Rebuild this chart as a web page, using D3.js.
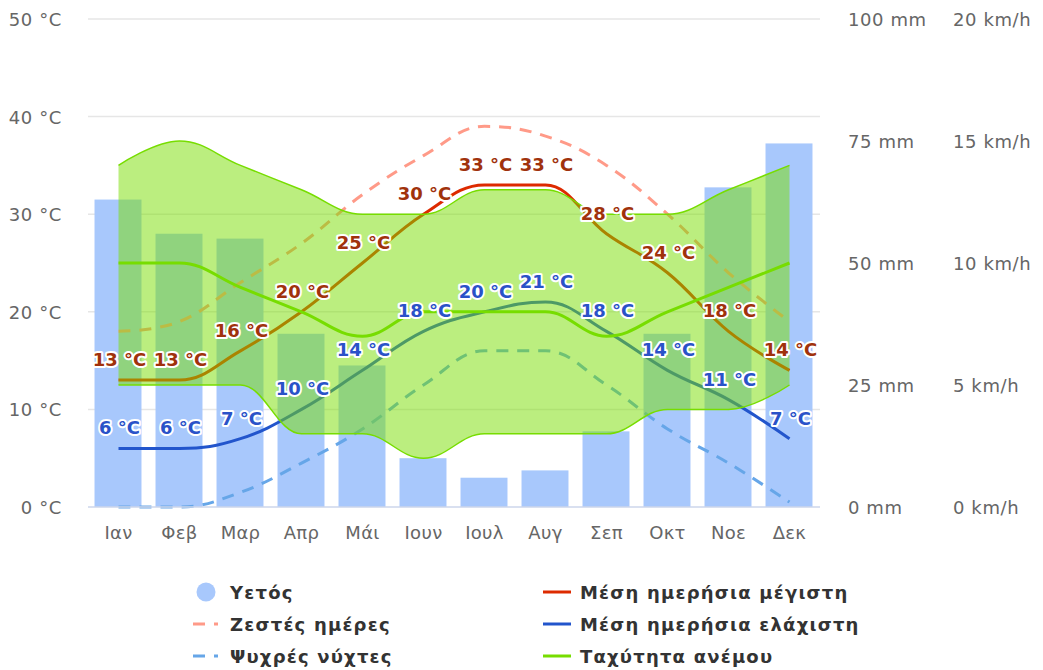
<!DOCTYPE html>
<html>
<head>
<meta charset="utf-8">
<script src="https://cdn.jsdelivr.net/npm/d3@7"></script>
<style>
  html, body { margin: 0; padding: 0; background: #fff; }
  svg { display: block; font-family: "DejaVu Sans", Verdana, sans-serif; }
</style>
</head>
<body>
<svg id="chart" width="1043" height="670"></svg>
<script>
// Monthly climate values
const months = ["Ιαν", "Φεβ", "Μαρ", "Απρ", "Μάι", "Ιουν", "Ιουλ", "Αυγ", "Σεπ", "Οκτ", "Νοε", "Δεκ"];
const precipitation = [63, 56, 55, 35.5, 29, 10, 6, 7.5, 15.5, 35.5, 65.5, 74.5];   // mm
const tempMax = [13, 13, 16, 20, 25, 30, 33, 33, 28, 24, 18, 14];                     // °C
const tempMin = [6, 6, 7, 10, 14, 18, 20, 21, 18, 14, 11, 7];                         // °C
const hotDays = [18, 19, 23, 27, 32, 36, 39, 38, 35, 30, 24, 19];                     // °C
const coldNights = [0, 0, 1.5, 4.5, 8, 12.5, 16, 16, 12.5, 8, 4.5, 0.5];              // °C
const windMean = [10, 10, 9, 8, 7, 8, 8, 8, 7, 8, 9, 10];                             // km/h
const windLow = [5, 5, 5, 3, 3, 2, 3, 3, 3, 4, 4, 5];                                 // km/h
const windHigh = [14, 15, 14, 13, 12, 12, 13, 13, 12, 12, 13, 14];                    // km/h

const tempTicks = [0, 10, 20, 30, 40, 50];
const rainTicks = [0, 25, 50, 75, 100];
const windTicks = [0, 5, 10, 15, 20];

const legendItems = [
  { name: "Υετός", kind: "circle", color: "#a8c8fc", col: 0, row: 0 },
  { name: "Ζεστές ημέρες", kind: "dash", color: "#ff9a88", col: 0, row: 1 },
  { name: "Ψυχρές νύχτες", kind: "dash", color: "#66a6e8", col: 0, row: 2 },
  { name: "Μέση ημερήσια μέγιστη", kind: "line", color: "#dd2a00", col: 1, row: 0 },
  { name: "Μέση ημερήσια ελάχιστη", kind: "line", color: "#2255cc", col: 1, row: 1 },
  { name: "Ταχύτητα ανέμου", kind: "line", color: "#77dd00", col: 1, row: 2 }
];

const C = {
  bar: "#a8c8fc",
  max: "#dd2a00",
  min: "#2255cc",
  hot: "#ff9a88",
  cold: "#66a6e8",
  wind: "#77dd00",
  maxLabel: "#a0320c",
  minLabel: "#2a52c8",
  grid: "#e6e6e6",
  axisLine: "#ccd6eb",
  axisText: "#666666",
  legendText: "#333333"
};

const plotLeft = 88, plotRight = 820, plotTop = 19, plotBottom = 507;
const svg = d3.select("#chart");

const x = d3.scaleBand().domain(months).range([plotLeft, plotRight]).padding(0);
const cx = m => x(m) + x.bandwidth() / 2;
const yT = d3.scaleLinear().domain([0, 50]).range([plotBottom, plotTop]);
const yR = d3.scaleLinear().domain([0, 100]).range([plotBottom, plotTop]);
const yW = d3.scaleLinear().domain([0, 20]).range([plotBottom, plotTop]);

// Spline with smoothing 1.5 and overshoot clamping at local extrema
function splineSegments(pts) {
  let d = "";
  let prevRight = null;
  for (let i = 1; i < pts.length; i++) {
    const [px, py] = pts[i];
    const [lx, ly] = pts[i - 1];
    const next = pts[i + 1];
    let lcx = px, lcy = py, rcx = null, rcy = null;
    if (next) {
      const [nx, ny] = next;
      const s = 1.5, den = 2.5;
      lcx = (s * px + lx) / den; lcy = (s * py + ly) / den;
      rcx = (s * px + nx) / den; rcy = (s * py + ny) / den;
      if (rcx !== lcx) {
        const corr = ((rcy - lcy) * (rcx - px)) / (rcx - lcx) + py - rcy;
        lcy += corr; rcy += corr;
        if (lcy > ly && lcy > py) { lcy = Math.max(ly, py); rcy = 2 * py - lcy; }
        else if (lcy < ly && lcy < py) { lcy = Math.min(ly, py); rcy = 2 * py - lcy; }
        if (rcy > ny && rcy > py) { rcy = Math.max(ny, py); lcy = 2 * py - rcy; }
        else if (rcy < ny && rcy < py) { rcy = Math.min(ny, py); lcy = 2 * py - rcy; }
      }
    }
    const c1 = prevRight || [lx, ly];
    d += `C${c1[0]},${c1[1]} ${lcx},${lcy} ${px},${py}`;
    prevRight = next ? [rcx, rcy] : null;
  }
  return d;
}
function splinePath(pts) {
  return `M${pts[0][0]},${pts[0][1]}` + splineSegments(pts);
}
const pointsOf = (vals, scale) => vals.map((v, i) => [cx(months[i]), scale(v)]);

// Grid lines (temperature axis)
svg.append("g").selectAll("line")
  .data(tempTicks.filter(t => t > 0))
  .join("line")
  .attr("x1", plotLeft).attr("x2", plotRight)
  .attr("y1", d => yT(d)).attr("y2", d => yT(d))
  .attr("stroke", C.grid).attr("stroke-width", 1.5);

// Precipitation bars
const barW = x.bandwidth() * 0.77;
svg.append("g").selectAll("rect")
  .data(precipitation)
  .join("rect")
  .attr("x", (d, i) => cx(months[i]) - barW / 2 - 0.5)
  .attr("y", d => yR(d))
  .attr("width", barW)
  .attr("height", d => yR(0) - yR(d))
  .attr("fill", C.bar);

// Temperature lines
const lines = svg.append("g").attr("fill", "none").attr("stroke-linecap", "butt");
lines.append("path").attr("d", splinePath(pointsOf(hotDays, yT)))
  .attr("stroke", C.hot).attr("stroke-width", 3).attr("stroke-dasharray", "12,9");
lines.append("path").attr("d", splinePath(pointsOf(coldNights, yT)))
  .attr("stroke", C.cold).attr("stroke-width", 3).attr("stroke-dasharray", "12,9");
lines.append("path").attr("d", splinePath(pointsOf(tempMax, yT)))
  .attr("stroke", C.max).attr("stroke-width", 3);
lines.append("path").attr("d", splinePath(pointsOf(tempMin, yT)))
  .attr("stroke", C.min).attr("stroke-width", 3);

// Wind speed range
const hiPts = pointsOf(windHigh, yW);
const loPts = pointsOf(windLow, yW).reverse();
const rangeD = splinePath(hiPts) + `L${loPts[0][0]},${loPts[0][1]}` + splineSegments(loPts) + "Z";
svg.append("path").attr("d", rangeD)
  .attr("fill", C.wind).attr("fill-opacity", 0.5).attr("stroke", "none");
svg.append("path").attr("d", splinePath(hiPts))
  .attr("fill", "none").attr("stroke", C.wind).attr("stroke-width", 1.5);
svg.append("path").attr("d", splinePath(loPts))
  .attr("fill", "none").attr("stroke", C.wind).attr("stroke-width", 1.5);

// Mean wind speed
svg.append("path").attr("d", splinePath(pointsOf(windMean, yW)))
  .attr("fill", "none").attr("stroke", C.wind).attr("stroke-width", 3);

// X axis line
svg.append("line")
  .attr("x1", plotLeft).attr("x2", plotRight).attr("y1", plotBottom).attr("y2", plotBottom)
  .attr("stroke", C.axisLine).attr("stroke-width", 1.5);

// Data labels
function dataLabels(vals, color) {
  const g = svg.append("g")
    .attr("font-size", 18).attr("font-weight", "bold").attr("text-anchor", "middle");
  g.selectAll("text").data(vals).join("text")
    .attr("x", (d, i) => cx(months[i]) + 1)
    .attr("y", d => yT(d) - 14)
    .attr("fill", color)
    .attr("stroke", "#fff").attr("stroke-width", 4).attr("stroke-linejoin", "round")
    .attr("paint-order", "stroke")
    .text(d => `${d} °C`);
}
dataLabels(tempMax, C.maxLabel);
dataLabels(tempMin, C.minLabel);

// Axis labels
const axisText = svg.append("g").attr("font-size", 18).attr("fill", C.axisText)
  .attr("letter-spacing", "0.6px");
axisText.selectAll(".t").data(tempTicks).join("text").attr("class", "t")
  .attr("x", 62).attr("y", d => yT(d) + 7).attr("text-anchor", "end")
  .text(d => `${d} °C`);
axisText.selectAll(".r").data(rainTicks).join("text").attr("class", "r")
  .attr("x", 848).attr("y", d => yR(d) + 7).attr("text-anchor", "start")
  .text(d => `${d} mm`);
axisText.selectAll(".w").data(windTicks).join("text").attr("class", "w")
  .attr("x", 953).attr("y", d => yW(d) + 7).attr("text-anchor", "start")
  .text(d => `${d} km/h`);
axisText.selectAll(".m").data(months).join("text").attr("class", "m")
  .attr("x", d => cx(d)).attr("y", 539).attr("text-anchor", "middle")
  .attr("letter-spacing", "0.3px")
  .text(d => d);

// Legend
const legend = svg.append("g");
const colX = [193, 543], rowY = [592, 624, 656];
legendItems.forEach(it => {
  const x0 = colX[it.col], y0 = rowY[it.row];
  if (it.kind === "circle") {
    legend.append("circle").attr("cx", x0 + 13).attr("cy", y0).attr("r", 9.5).attr("fill", it.color);
  } else {
    legend.append("line").attr("x1", x0).attr("x2", x0 + (it.col === 0 ? 25 : 28)).attr("y1", y0).attr("y2", y0)
      .attr("stroke", it.color).attr("stroke-width", 3)
      .attr("stroke-dasharray", it.kind === "dash" ? "12,9" : null);
  }
  legend.append("text")
    .attr("x", it.col === 0 ? 230 : 580).attr("y", y0 + 6.5)
    .attr("font-size", 18).attr("font-weight", "bold").attr("fill", C.legendText)
    .attr("letter-spacing", "1.2px")
    .text(it.name);
});
</script>
</body>
</html>
